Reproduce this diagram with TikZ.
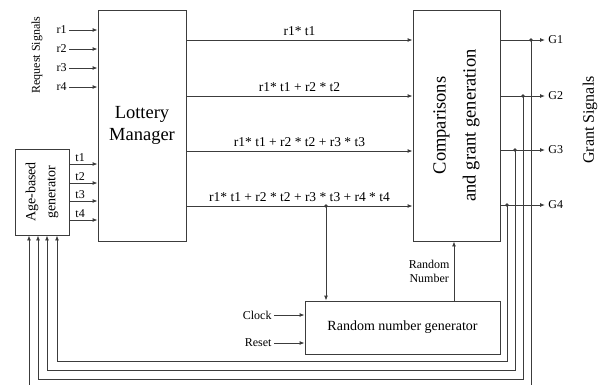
\documentclass[tikz,border=0pt]{standalone}
\usepackage{fontspec}
\setmainfont{Liberation Serif}
\usetikzlibrary{arrows.meta}
\definecolor{wire}{RGB}{60,60,60}

\begin{document}
\begin{tikzpicture}[x=1pt,y=-1pt,
  box/.style={draw=wire, line width=0.9pt, inner sep=0pt},
  arr/.style={draw=wire, line width=0.9pt, -{Latex[length=5pt,width=4pt]}},
  sm/.style={font=\fontsize{12}{14}\selectfont},
  sumlbl/.style={font=\fontsize{13.5}{16}\selectfont, inner sep=4pt}]
\useasboundingbox (0,0) rectangle (602,384);
\clip (0,0) rectangle (602,384);

% blocks
\node[box, minimum width=88, minimum height=231, align=center,
      font=\fontsize{18.5}{22}\selectfont] (lm) at (142,125.5) {Lottery\\Manager};
\node[box, minimum width=87, minimum height=231] (cmp) at (456.5,125.5) {};
\node[rotate=90, align=center, font=\fontsize{18.5}{30}\selectfont] (cmptxt) at (cmp.center)
  {Comparisons\\and grant generation};
\node[box, minimum width=54, minimum height=86] (age) at (42,192) {};
\node[rotate=90, align=center, font=\fontsize{14}{20}\selectfont] (agetxt) at (age.center)
  {Age-based\\generator};
\node[box, minimum width=195, minimum height=53, font=\fontsize{14}{16}\selectfont] (rng)
  at (402.5,327.5) {Random number generator};

% side titles
\node[rotate=90, sm] (req) at (37,55) {Request Signals};
\node[rotate=90, font=\fontsize{16}{18}\selectfont] (gnt) at (590,120) {Grant Signals};

% request signals
\foreach \i/\y in {1/30,2/49,3/68,4/87} {
  \coordinate (r\i) at (69,\y);
  \draw[arr] (r\i) node[left, sm, inner sep=2pt] {r\i} -- (r\i -| lm.west);
}

% ages
\foreach \i/\y in {1/164,2/183,3/201,4/220} {
  \coordinate (t\i) at (age.east |- 0,\y);
  \draw[arr] (t\i) -- node[above, sm, pos=0.38, inner sep=1.5pt] {t\i} (t\i -| lm.west);
}

% partial sums
\foreach \i/\y/\t in {1/40/{r1* t1}, 2/96/{r1* t1 + r2 * t2},
    3/151/{r1* t1 + r2 * t2 + r3 * t3}, 4/206/{r1* t1 + r2 * t2 + r3 * t3 + r4 * t4}} {
  \coordinate (s\i) at (lm.east |- 0,\y);
  \draw[arr] (s\i) -- node[above, sumlbl] {\t} (s\i -| cmp.west);
}

% grants and feedback to the age generator
\foreach \i/\y/\xd/\yb/\xa in {1/40/531/392/29, 2/96/523/379/38, 3/150/515/370/47, 4/205/507/361/57} {
  \coordinate (g\i) at (cmp.east |- 0,\y);
  \coordinate (o\i) at (545,\y);
  \coordinate (d\i) at (\xd,\y);
  \draw[arr] (g\i) -- (o\i) node[right, sm, inner sep=3pt] {G\i};
  \fill[wire] (d\i) circle (1.8pt);
  \draw[arr] (d\i) -- (\xd,\yb) -| (age.south -| \xa,0);
}

% random number generator links
\coordinate (j) at (326,206);
\fill[wire] (j) circle (1.8pt);
\draw[arr] (j) -- (j |- rng.north);
\coordinate (rn) at (rng.north -| 454,0);
\draw[arr] (rn) -- node[left, sm, align=center, inner sep=4pt] {Random\\Number} (rn |- cmp.south);
\foreach \n/\y in {Clock/315, Reset/343} {
  \coordinate (\n) at (274,\y);
  \draw[arr] (\n) node[left, sm, inner sep=2pt] {\n} -- (\n -| rng.west);
}
\end{tikzpicture}
\end{document}
